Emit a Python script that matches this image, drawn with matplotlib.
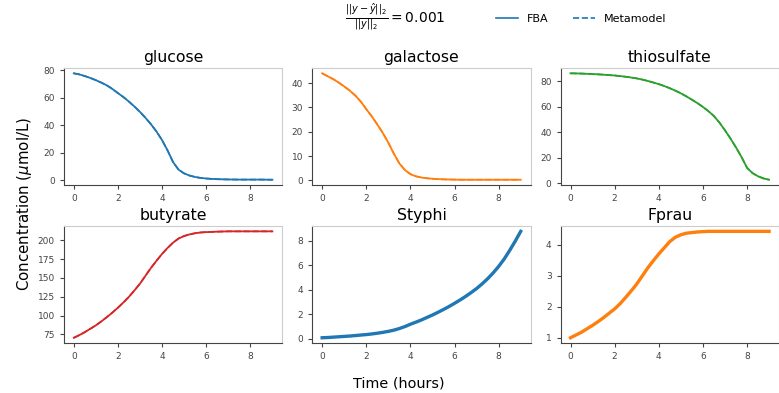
import matplotlib
matplotlib.use("Agg")
import matplotlib.pyplot as plt

# sample times (hours)
time_h = [0, 0.25, 0.5, 0.75, 1, 1.25, 1.5, 1.75, 2, 2.25, 2.5, 2.75, 3, 3.25, 3.5, 3.75,
          4, 4.25, 4.5, 4.75, 5, 5.25, 5.5, 5.75, 6, 6.25, 6.5, 6.75, 7, 7.25, 7.5, 7.75,
          8, 8.25, 8.5, 8.75, 9]

glucose = [77.6, 76.8, 75.6, 74.2, 72.6, 70.8, 68.8, 66.2, 63.2, 60.3, 57, 53.4, 49.5, 45.2, 40.5, 35.2,
           29, 21.5, 13, 7.5, 4.8, 3.2, 2.2, 1.5, 1.1, 0.8, 0.6, 0.5, 0.4, 0.35, 0.3, 0.3,
           0.3, 0.3, 0.3, 0.25, 0.2]
galactose = [44, 42.8, 41.6, 40.2, 38.6, 36.9, 34.9, 32.4, 29.3, 26.3, 23, 19.5, 15.5, 11, 7, 4.3,
             2.6, 1.7, 1.2, 0.9, 0.7, 0.55, 0.45, 0.4, 0.35, 0.3, 0.3, 0.3, 0.3, 0.3, 0.3, 0.3,
             0.3, 0.3, 0.3, 0.3, 0.3]
thiosulfate = [86.2, 86.1, 86, 85.8, 85.6, 85.4, 85.1, 84.8, 84.5, 84, 83.5, 82.9, 82.2, 81.3, 80.2, 79,
               77.7, 76.2, 74.5, 72.6, 70.5, 68.1, 65.5, 62.8, 59.8, 56.5, 52.6, 47.5, 41.5, 35, 28, 20.5,
               12, 7.8, 5.3, 3.6, 2.6]
butyrate = [70.5, 74, 78, 82.5, 87, 92.3, 98, 104, 110.5, 117.5, 125, 133.5, 142.5, 153, 163.5, 173,
            182, 190, 197, 202.5, 205.8, 208, 209.5, 210.5, 211, 211.3, 211.6, 211.8, 212, 212, 212, 212,
            212, 212, 212, 212, 212]
styphi = [0.1, 0.12, 0.15, 0.18, 0.21, 0.24, 0.28, 0.32, 0.36, 0.41, 0.47, 0.54, 0.62, 0.72, 0.85, 1.01,
          1.2, 1.37, 1.55, 1.75, 1.95, 2.17, 2.4, 2.64, 2.9, 3.17, 3.46, 3.77, 4.1, 4.48, 4.9, 5.37,
          5.9, 6.5, 7.2, 7.95, 8.75]
fprau = [1.0, 1.09, 1.18, 1.29, 1.4, 1.52, 1.65, 1.79, 1.93, 2.1, 2.3, 2.51, 2.73, 2.99, 3.25, 3.48,
         3.7, 3.9, 4.1, 4.24, 4.32, 4.37, 4.39, 4.41, 4.42, 4.43, 4.43, 4.43, 4.43, 4.43, 4.43, 4.43,
         4.43, 4.43, 4.43, 4.43, 4.43]

names = ["glucose", "galactose", "thiosulfate", "butyrate", "Styphi", "Fprau"]
series = [glucose, galactose, thiosulfate, butyrate, styphi, fprau]
colors = ["tab:blue", "tab:orange", "tab:green", "tab:red", "tab:blue", "tab:orange"]
widths = [1.3, 1.3, 1.3, 1.3, 2.4, 2.4]

fig, axes = plt.subplots(2, 3, figsize=(7.79, 3.93), dpi=100)
fig.subplots_adjust(left=0.082, right=1.0, top=0.827, bottom=0.127, wspace=0.137, hspace=0.35)

for ax, name, vals, c, lw in zip(axes.flat, names, series, colors, widths):
    ax.plot(time_h, vals, color=c, lw=lw, ls="-")   # FBA
    ax.plot(time_h, vals, color=c, lw=1.2, ls="--")  # metamodel
    ax.set_title(name, fontsize=11.3, pad=4)
    ax.set_xticks([0, 2, 4, 6, 8])
    ax.tick_params(labelsize=6.5, colors="#444444", length=3)
    for side in ["top", "right"]:
        ax.spines[side].set_color("#cccccc")
    for side in ["left", "bottom"]:
        ax.spines[side].set_color("#444444")

axes[1, 0].set_yticks([75, 100, 125, 150, 175, 200])

fig.text(0.032, 0.48, r"Concentration ($\mu$mol/L)", rotation=90, fontsize=10.8, ha="center", va="center")
fig.text(0.512, 0.023, "Time (hours)", fontsize=10.4, ha="center", va="center")

fig.text(0.508, 0.955, r"$\frac{||y-\hat{y}||_2}{||y||_2} = 0.001$", fontsize=10, ha="center", va="center")
handles = [plt.Line2D([], [], color="tab:blue", lw=1.2, ls="-"),
           plt.Line2D([], [], color="tab:blue", lw=1.2, ls="--")]
fig.legend(handles, ["FBA", "Metamodel"], loc="center", bbox_to_anchor=(0.746, 0.952),
           ncol=2, frameon=False, fontsize=8, handlelength=2, columnspacing=2.2)

fig.savefig("out.png", dpi=100)
